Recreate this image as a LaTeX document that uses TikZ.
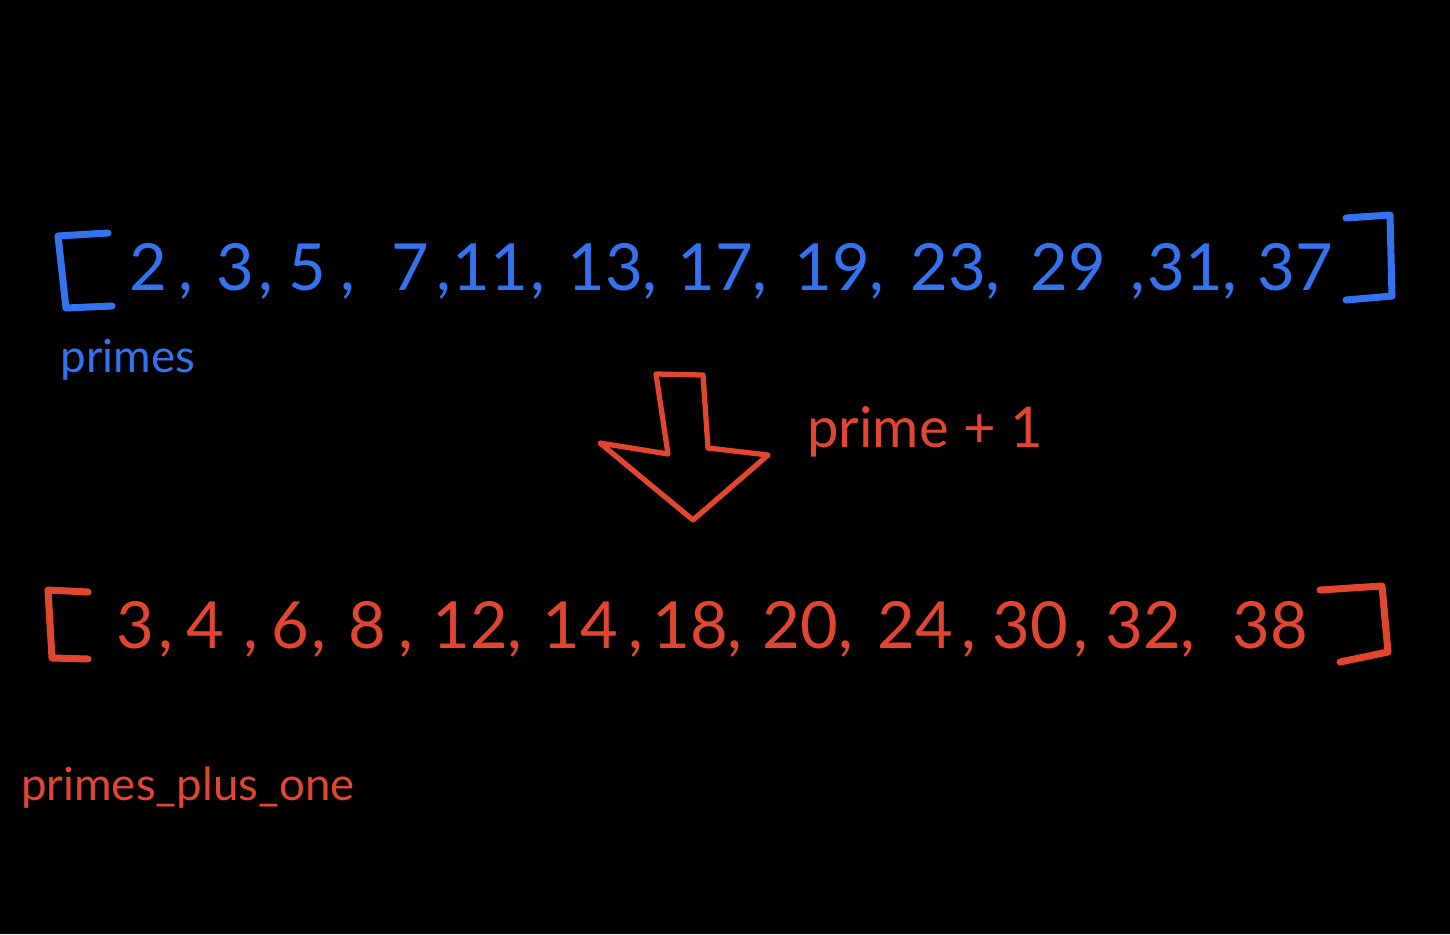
\documentclass[tikz,border=0pt]{standalone}
\usepackage{fontspec}
\setmainfont{Lato}
\definecolor{pblue}{HTML}{3473F0}
\definecolor{pred}{HTML}{E24631}
\begin{document}
\begin{tikzpicture}[x=0.02cm,y=-0.02cm,
  bl/.style={text=pblue,font=\fontsize{37}{44}\selectfont,inner sep=0pt,anchor=base west},
  rd/.style={text=pred,font=\fontsize{37}{44}\selectfont,inner sep=0pt,anchor=base west},
  brk/.style={line width=4pt,line cap=round,line join=round}]
\fill[black] (0,0) rectangle (1450,934);
\useasboundingbox (0,0) rectangle (1450,934);
% blue list
\draw[brk,pblue] (108,233) -- (58,236) -- (66,308) -- (112,306);
\draw[brk,pblue] (1346,218) -- (1390,215) -- (1392,296) -- (1346,300);
\foreach \t/\x/\k [count=\i] in {2/129/6.5,3/216/2.6,5/288/8.2,7/391/4.3,11/452/1.4,13/567/0,17/677/0,19/794/0,23/910/0,29/1030/14,31/1147/0}
  \node[bl] (b\i) at (\x,290) {\t\kern\k pt,};
\node[bl] (b12) at (1257,290) {37};
\node[text=pblue,font=\fontsize{26}{30}\selectfont,inner sep=0pt] (primes) at (128,360) {primes};
% arrow
\draw[brk,pred,line width=3pt] (656,374) -- (703,375) -- (708,448) -- (768,455) -- (693,520) -- (600,443) -- (668,454) -- cycle;
\node[text=pred,font=\fontsize{32}{38}\selectfont,inner sep=0pt] (op) at (925,432) {prime + 1};
% red list
\draw[brk,pred] (88,592) -- (48,590) -- (52,658) -- (88,659);
\draw[brk,pred] (1320,590) -- (1382,586) -- (1388,652) -- (1340,662);
\foreach \t/\x/\k [count=\i] in {3/116/2.6,4/186/11,6/271/1.4,8/348/7,12/432/0,14/542/6,18/652/0,20/762/0.3,24/877/4.8,30/992/3,32/1105/0}
  \node[rd] (r\i) at (\x,648) {\t\kern\k pt,};
\node[rd] (r12) at (1232,648) {38};
\node[text=pred,font=\fontsize{26}{30}\selectfont,inner sep=0pt] (pplus) at (188,788) {primes\_plus\_one};
\end{tikzpicture}
\end{document}
